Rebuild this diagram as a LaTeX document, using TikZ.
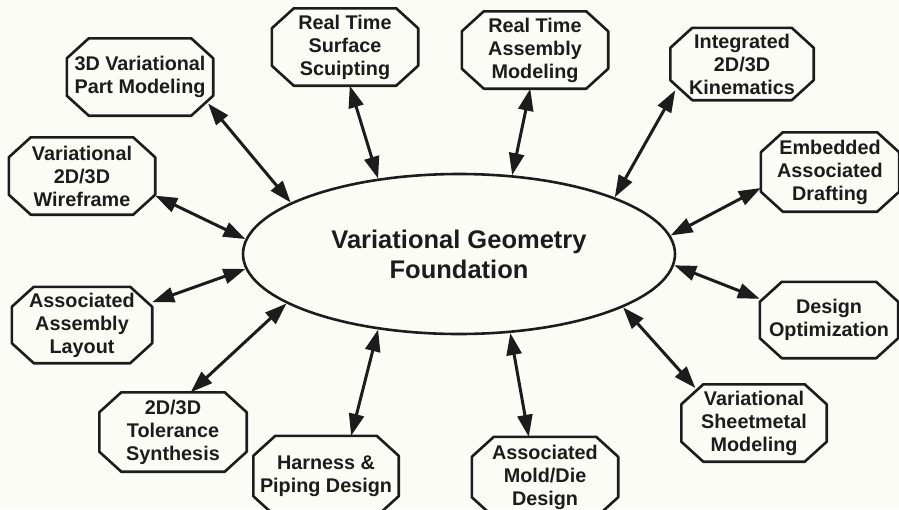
\documentclass[tikz,border=0pt]{standalone}
\usepackage{fontspec}
\setmainfont{Liberation Sans}
\usetikzlibrary{shapes.geometric,arrows.meta,calc}
\definecolor{bgc}{RGB}{252,252,247}
\definecolor{ink}{RGB}{28,28,28}
\tikzset{
  octbox/.style={rectangle, draw=none, minimum width=146pt, minimum height=77pt,
    inner sep=0pt, align=center, text=ink,
    font=\fontsize{19.8}{23}\selectfont\bfseries},
  octline/.style={draw=ink, line width=2.6pt, line join=round},
  link/.style={draw=ink, line width=3pt,
    {Triangle[length=22pt,width=15pt]}-{Triangle[length=22pt,width=15pt]}},
}
\newcommand\octframe[1]{%
  \draw[octline] ($(#1.north west)+(22,0)$) -- ($(#1.north east)+(-22,0)$)
    -- ($(#1.north east)+(0,20)$) -- ($(#1.south east)+(0,-20)$)
    -- ($(#1.south east)+(-22,0)$) -- ($(#1.south west)+(22,0)$)
    -- ($(#1.south west)+(0,-20)$) -- ($(#1.north west)+(0,20)$) -- cycle;}
\begin{document}
\begin{tikzpicture}[x=1pt,y=-1pt]
\fill[bgc] (0,0) rectangle (899,509);
\useasboundingbox (0,0) rectangle (899,509);

\node[ellipse, draw=ink, line width=2.6pt, minimum width=432pt, minimum height=160pt,
  align=center, text=ink, font=\fontsize{25.5}{31}\selectfont\bfseries]
  (vg) at (459,254) {Variational Geometry\\[-1pt]Foundation};

\node[octbox] (pm) at (140,77) {3D Variational\\Part Modeling};
\node[octbox] (wf) at (82,176) {Variational\\2D/3D\\Wireframe};
\node[octbox] (ss) at (345,47) {Real Time\\Surface\\Scuipting};
\node[octbox] (am) at (535,50) {Real Time\\Assembly\\Modeling};
\node[octbox, minimum width=143pt, minimum height=72pt] (ki) at (742,64) {Integrated\\2D/3D\\Kinematics};
\node[octbox, minimum width=138pt, minimum height=79pt] (ed) at (830,172) {Embedded\\Associated\\Drafting};
\node[octbox, minimum width=138pt, minimum height=76pt] (do) at (829,320) {Design\\Optimization};
\node[octbox, minimum width=145pt] (sm) at (754,423) {Variational\\Sheetmetal\\Modeling};
\node[octbox, minimum height=80pt] (md) at (545,477) {Associated\\Mold/Die\\Design};
\node[octbox, minimum width=145pt, minimum height=80pt] (hp) at (326,476) {Harness \&\\Piping Design};
\node[octbox, minimum width=147pt, minimum height=79pt] (ts) at (173,432) {2D/3D\\Tolerance\\Synthesis};
\node[octbox, minimum width=140pt, minimum height=76pt] (al) at (82,325) {Associated\\Assembly\\Layout};

\foreach \n in {pm,wf,ss,am,ki,ed,do,sm,md,hp,ts,al} {\octframe{\n}}

\draw[link, shorten <=-8pt] (pm.-24.8) -- (vg.163);
\draw[link] (wf.-15.7) -- (vg.176.8);
\draw[link] (ss.-83) -- (vg.137.8);
\draw[link] (am.-97.5) -- (vg.56.8);
\draw[link, shorten <=-10pt] (ki.-154.9) -- (vg.20.4);
\draw[link] (ed.-167.6) -- (vg.5.4);
\draw[link] (do.163) -- (vg.-3.8);
\draw[link, shorten <=-5pt] (sm.148) -- (vg.-18.9);
\draw[link] (md.112.5) -- (vg.-57.8);
\draw[link] (hp.58.4) -- (vg.-137.8);
\draw[link] (ts.66.4) -- (vg.-164.4);
\draw[link] (al.18.7) -- (vg.-176.3);
\end{tikzpicture}
\end{document}
